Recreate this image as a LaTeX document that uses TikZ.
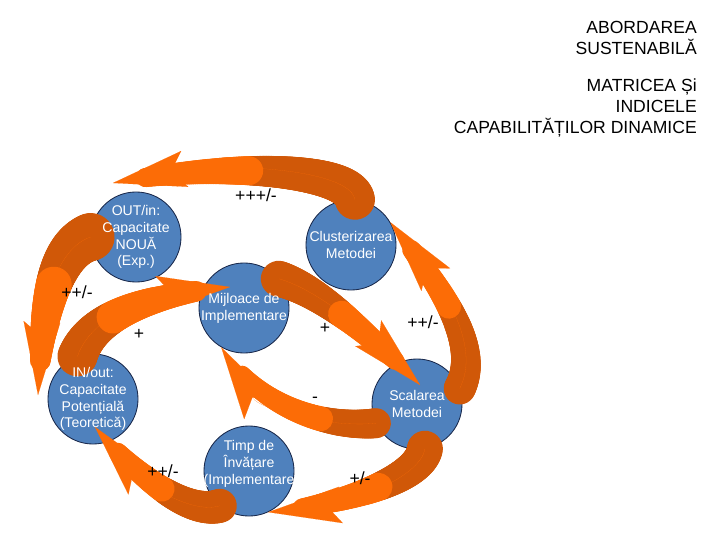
\documentclass[tikz,border=0pt]{standalone}
\usepackage{fontspec}
\setmainfont{Liberation Sans}
\usetikzlibrary{decorations.markings,calc,arrows.meta}

\definecolor{bubblefill}{RGB}{79,129,189}
\definecolor{bubbleline}{RGB}{25,40,75}
\definecolor{swirllight}{RGB}{252,108,6}
\definecolor{swirldark}{RGB}{208,88,8}

\tikzset{
    bubble/.style={circle, fill=bubblefill, draw=bubbleline, line width=0.6pt, minimum size=2.25cm, inner sep=0pt},
    bubbletext/.style={text=white, align=center, font=\fontsize{10}{12}\selectfont, inner sep=0pt},
    sign/.style={font=\fontsize{12.5}{15}\selectfont, inner sep=0pt},
    heading/.style={align=right, anchor=east, font=\fontsize{12.5}{15}\selectfont, inner sep=0pt},
    % tapered curved arrow: tail half width, head half width, dark part
    swirl/.style n args={3}{
        postaction={decorate, decoration={markings,
            mark=between positions 0 and 1 step 1.2pt with {
                \pgfmathsetmacro\swd{\pgfkeysvalueof{/pgf/decoration/mark info/distance from start}/\pgfdecoratedpathlength}
                \pgfmathsetmacro\swrest{\pgfdecoratedpathlength-\pgfkeysvalueof{/pgf/decoration/mark info/distance from start}}
                \pgfmathsetmacro\swr{0.711*(#1+(#2-#1)*\swd)}
                \ifdim\swrest pt>24pt
                    \ifdim\swd pt<#3pt
                        \fill[swirldark] (0,0) circle (\swr pt);
                    \else
                        \fill[swirllight] (0,0) circle (\swr pt);
                    \fi
                \fi
            }}},
        postaction={draw=swirllight, line width=0.05pt,
            -{Stealth[length=52pt, width=26pt, inset=10pt]}}
    }
}

\begin{document}
\begin{tikzpicture}[x=0.025cm, y=0.025cm]
    \useasboundingbox (0,0) rectangle (720,540);

    % Circles
    \node[bubble] (nou)   at (136,303) {};
    \node[bubble] (clust) at (351,295) {};
    \node[bubble] (mijl)  at (244,232) {};
    \node[bubble] (pot)   at (93,141) {};
    \node[bubble] (scal)  at (417,136) {};
    \node[bubble] (timp)  at (249,69) {};

    % Arrow tips off the circles
    \coordinate (tip1) at (113,357);
    \coordinate (tip2) at (38,145);
    \coordinate (tip3) at (230,253);
    \coordinate (tip4) at (420,155);
    \coordinate (tip8) at (95,113);

    % Arrows
    \path[swirl={20}{8}{0.30}] (pot.110) .. controls (92,225) and (150,245) .. (tip3);
    \path[swirl={24}{7}{0.35}] (nou.180) .. controls (52,290) and (42,220) .. (tip2);
    \path[swirl={20}{8}{0.45}] (clust.85) .. controls (350,372) and (220,378) .. (tip1);
    \path[swirl={18}{7}{0.40}] (mijl.40) .. controls (320,250) and (375,200) .. (tip4);
    \path[swirl={15}{7}{0.30}] (scal.205) .. controls (330,112) and (260,130) .. (mijl.240);
    \path[swirl={16}{8}{0.45}] (scal.20) .. controls (482,195) and (440,255) .. (clust.30);
    \path[swirl={18}{7}{0.35}] (scal.280) .. controls (420,60) and (340,35) .. (timp.295);
    \path[swirl={17}{7}{0.40}] (timp.230) .. controls (190,25) and (140,60) .. (tip8);

    % Circle texts
    \node[bubbletext] (nou-t)   at (nou)   {OUT/in:\\Capacitate\\NOUĂ\\(Exp.)};
    \node[bubbletext] (clust-t) at (clust) {Clusterizarea\\Metodei};
    \node[bubbletext] (mijl-t)  at (mijl)  {Mijloace de\\Implementare};
    \node[bubbletext] (pot-t)   at (pot)   {IN/out:\\Capacitate\\Potențială\\(Teoretică)};
    \node[bubbletext] (scal-t)  at (scal)  {Scalarea\\Metodei};
    \node[bubbletext] (timp-t)  at ($(timp)+(0,7)$) {Timp de\\Învățare\\(Implementare};

    % Signs
    \node[sign] (s1) at (256,345) {+++/-};
    \node[sign] (s2) at (77,248)  {++/-};
    \node[sign] (s3) at (139,206) {+};
    \node[sign] (s4) at (325,212) {+};
    \node[sign] (s5) at (423,218) {++/-};
    \node[sign] (s6) at (315,140) {-};
    \node[sign] (s7) at (163,69)  {++/-};
    \node[sign] (s8) at (360,62)  {+/-};

    % Heading
    \node[heading] (head1) at (697,502) {ABORDAREA\\SUSTENABILĂ};
    \node[heading] (head2) at (697,432) {MATRICEA Și\\INDICELE\\CAPABILITĂȚILOR DINAMICE};
\end{tikzpicture}
\end{document}
